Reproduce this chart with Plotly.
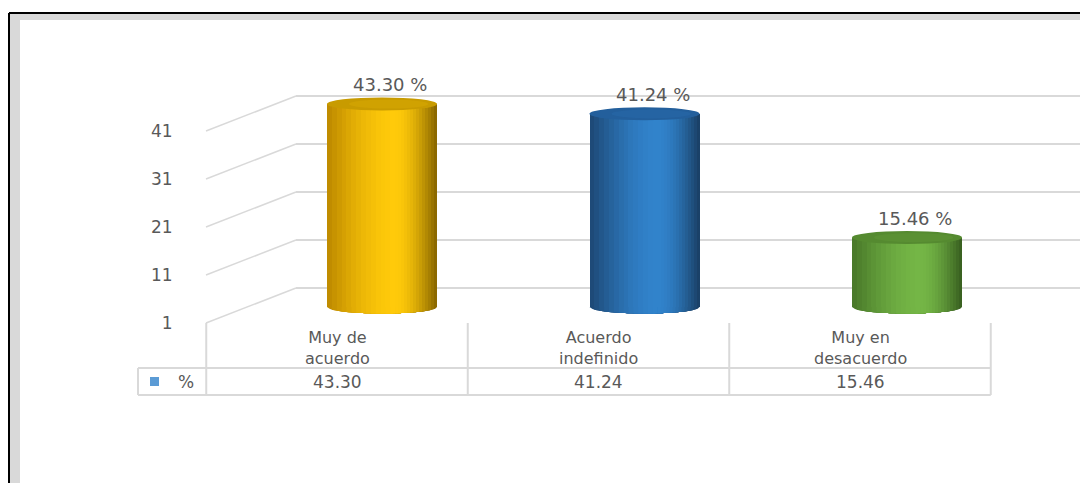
import numpy as np
import plotly.graph_objects as go

# ---------------- data ----------------
CATEGORIES = ["Muy de acuerdo", "Acuerdo indefinido", "Muy en desacuerdo"]
PERCENT = [43.30, 41.24, 15.46]
TICK_VALUES = [1, 11, 21, 31, 41]
SERIES_NAME = "%"

# cylinder colours per bar: left edge, highlight, right edge, top face
EDGE_LEFT = ["#c08c00", "#1e4a78", "#4a7a2a"]
HIGHLIGHT = ["#ffca0a", "#3183cc", "#74b646"]
EDGE_RIGHT = ["#8c6900", "#1a4168", "#3a6221"]
TOP_FACE = ["#c89b00", "#235f9c", "#558a30"]
LEGEND_KEY = "#5b9bd5"
GRID = "#d9d9d9"
TEXT = "#595959"
FONT = "DejaVu Sans"

# ---------------- geometry (screen pixels) ----------------
SCREEN_W, SCREEN_H = 1088, 483
OFF = 8                      # default page margin around the figure
W, H = SCREEN_W - OFF, SCREEN_H - OFF
BACK_L, BACK_R = 296, 1083
FRONT_X = 206
BAR_C0, BAR_STEP = 382, 262.5
FRONT_C0, FRONT_STEP = 337, 261.5
BASE_BAR, BASE_FRONT, BASE_BACK = 307, 323, 288
PPU = 4.8
AXIS_MIN = TICK_VALUES[0]
BAR_W = 110 / BAR_STEP
HALF_H = 6.5 / PPU


def px(x):
    return (x - OFF) / W


def py(y):
    return 1 - (y - OFF) / H


def yrange(base_px):
    return [AXIS_MIN - (SCREEN_H - base_px) / PPU, AXIS_MIN + (base_px - OFF) / PPU]


span = (BACK_R - BACK_L)
x_r0 = -(BAR_C0 - BACK_L) / BAR_STEP
x2_r0 = -(FRONT_C0 - BACK_L) / FRONT_STEP


def lerp(c1, c2, t):
    a = np.array([int(c1[i:i + 2], 16) for i in (1, 3, 5)], float)
    b = np.array([int(c2[i:i + 2], 16) for i in (1, 3, 5)], float)
    c = a + (b - a) * t
    return "rgb(%d,%d,%d)" % tuple(np.round(c))


fig = go.Figure()
n = len(CATEGORIES)
xs = list(range(n))

# invisible anchors for axes
fig.add_trace(go.Scatter(x=[0], y=[AXIS_MIN], mode="markers", marker=dict(opacity=0),
                         hoverinfo="skip", showlegend=False, xaxis="x", yaxis="y"))
fig.add_trace(go.Scatter(x=[0], y=[AXIS_MIN], mode="markers", marker=dict(opacity=0),
                         hoverinfo="skip", showlegend=False, xaxis="x", yaxis="y3"))

# cylinders: layered bars for horizontal shading
N = 14
hl = 0.12 * BAR_W  # highlight offset right of centre
heights = [v - AXIS_MIN for v in PERCENT]
shapes = []


def lower_half_path(ci, xa, xb):
    pts = np.linspace(xa, xb, 24)
    rx = BAR_W / 2
    ys = AXIS_MIN - HALF_H * np.sqrt(np.clip(1 - (pts / rx) ** 2, 0, 1))
    d = "M %f,%f " % (ci + xa, AXIS_MIN)
    for xx, yy in zip(pts, ys):
        d += "L %f,%f " % (ci + xx, yy)
    d += "L %f,%f Z" % (ci + xb, AXIS_MIN)
    return d


for k in range(N):
    t = k / N
    s = np.sin(t * np.pi / 2)
    left = -BAR_W / 2 + (hl + BAR_W / 2) * t
    right = BAR_W / 2 - (BAR_W / 2 - hl) * t
    cl = [lerp(EDGE_LEFT[i], HIGHLIGHT[i], s) for i in range(n)]
    cr = [lerp(EDGE_RIGHT[i], HIGHLIGHT[i], s) for i in range(n)]
    fig.add_trace(go.Bar(x=xs, y=heights, base=AXIS_MIN, offset=left, width=hl - left,
                         marker=dict(color=cl, line=dict(width=0)), hoverinfo="skip",
                         showlegend=False, xaxis="x", yaxis="y2"))
    fig.add_trace(go.Bar(x=xs, y=heights, base=AXIS_MIN, offset=hl, width=right - hl + 1e-4,
                         marker=dict(color=cr, line=dict(width=0)), hoverinfo="skip",
                         showlegend=False, xaxis="x", yaxis="y2"))
    for i in range(n):
        shapes.append(dict(type="path", xref="x", yref="y2", path=lower_half_path(i, left, hl),
                           fillcolor=cl[i], line=dict(width=0), layer="above"))
        shapes.append(dict(type="path", xref="x", yref="y2", path=lower_half_path(i, hl, right),
                           fillcolor=cr[i], line=dict(width=0), layer="above"))

# top faces
for i, v in enumerate(PERCENT):
    shapes.append(dict(type="circle", xref="x", yref="y2",
                       x0=i - BAR_W / 2, x1=i + BAR_W / 2, y0=v - HALF_H, y1=v + HALF_H,
                       fillcolor=TOP_FACE[i], line=dict(width=0), layer="above"))
    shapes.append(dict(type="circle", xref="x", yref="y2",
                       x0=i - BAR_W * 0.3, x1=i + BAR_W * 0.42, y0=v - HALF_H * 0.7, y1=v + HALF_H * 0.7,
                       fillcolor=lerp(TOP_FACE[i], HIGHLIGHT[i], 0.25), line=dict(width=0),
                       layer="above", opacity=0.6))

# side wall diagonals
for v in TICK_VALUES:
    shapes.append(dict(type="line", xref="paper", yref="paper",
                       x0=px(FRONT_X), y0=py(BASE_FRONT - (v - AXIS_MIN) * PPU),
                       x1=px(BACK_L), y1=py(BASE_BACK - (v - AXIS_MIN) * PPU),
                       line=dict(color=GRID, width=1.5), layer="below"))

# data table
TABLE_TOP, TABLE_MID, TABLE_BOT, TABLE_LEFT = 323, 368, 395, 138
bounds = [FRONT_C0 + (i - 0.5) * FRONT_STEP for i in range(n + 1)]
for b in bounds:
    shapes.append(dict(type="line", xref="paper", yref="paper", x0=px(b), x1=px(b),
                       y0=py(TABLE_TOP), y1=py(TABLE_BOT), line=dict(color=GRID, width=2)))
for yy in (TABLE_MID, TABLE_BOT):
    shapes.append(dict(type="line", xref="paper", yref="paper", x0=px(TABLE_LEFT), x1=px(bounds[-1]),
                       y0=py(yy), y1=py(yy), line=dict(color=GRID, width=2)))
shapes.append(dict(type="line", xref="paper", yref="paper", x0=px(TABLE_LEFT), x1=px(TABLE_LEFT),
                   y0=py(TABLE_MID), y1=py(TABLE_BOT), line=dict(color=GRID, width=2)))
shapes.append(dict(type="rect", xref="paper", yref="paper", x0=px(150), x1=px(159),
                   y0=py(386), y1=py(377), fillcolor=LEGEND_KEY, line=dict(width=0)))

# outer frame
shapes.append(dict(type="rect", xref="paper", yref="paper", x0=px(10), x1=1.0, y0=py(20), y1=py(14),
                   fillcolor=GRID, line=dict(width=0)))
shapes.append(dict(type="rect", xref="paper", yref="paper", x0=px(10), x1=px(20), y0=0, y1=py(14),
                   fillcolor=GRID, line=dict(width=0)))
shapes.append(dict(type="line", xref="paper", yref="paper", x0=px(9), x1=1.0, y0=py(13), y1=py(13),
                   line=dict(color="#000000", width=2)))
shapes.append(dict(type="line", xref="paper", yref="paper", x0=px(9), x1=px(9), y0=0, y1=py(13),
                   line=dict(color="#000000", width=2)))

annotations = []
# data labels
for i, v in enumerate(PERCENT):
    annotations.append(dict(xref="x", yref="y2", x=i, y=v, text="%.2f %%" % v, showarrow=False,
                            xanchor="center", yanchor="middle",
                            xshift=8, yshift=19, font=dict(size=18, color=TEXT, family=FONT)))
# category labels (two lines) and table values
for i, (c, v) in enumerate(zip(CATEGORIES, PERCENT)):
    l1, l2 = c.rsplit(" ", 1)
    annotations.append(dict(xref="x2", yref="paper", x=i, y=py(348), text=l1 + "<br>" + l2,
                            showarrow=False, xanchor="center", yanchor="middle", borderpad=0,
                            font=dict(size=16, color=TEXT, family=FONT)))
    annotations.append(dict(xref="x2", yref="paper", x=i, y=py(381.5), text="%.2f" % v, showarrow=False,
                            xanchor="center", yanchor="middle", borderpad=0,
                            font=dict(size=17, color=TEXT, family=FONT)))
annotations.append(dict(xref="paper", yref="paper", x=px(186), y=py(381.5), text=SERIES_NAME,
                        showarrow=False, xanchor="center", yanchor="middle", borderpad=0,
                        font=dict(size=17, color=TEXT, family=FONT)))

fig.update_layout(
    width=W, height=H,
    margin=dict(l=0, r=0, t=0, b=0),
    paper_bgcolor="white", plot_bgcolor="rgba(0,0,0,0)",
    barmode="overlay", bargap=0,
    showlegend=False,
    font=dict(family=FONT, color=TEXT),
    xaxis=dict(domain=[px(BACK_L), px(BACK_R)], range=[x_r0, x_r0 + span / BAR_STEP],
               visible=False, fixedrange=True),
    xaxis2=dict(overlaying="x", range=[x2_r0, x2_r0 + span / FRONT_STEP], visible=False),
    yaxis=dict(domain=[0, 1], range=yrange(BASE_BACK), tickvals=TICK_VALUES, showticklabels=False,
               showgrid=True, gridcolor=GRID, gridwidth=1.5, zeroline=False, showline=False),
    yaxis2=dict(overlaying="y", range=yrange(BASE_BAR), visible=False),
    yaxis3=dict(overlaying="y", anchor="free", position=px(FRONT_X), side="left",
                range=yrange(BASE_FRONT), tickvals=TICK_VALUES, showgrid=False, zeroline=False,
                showline=False, ticks="outside", ticklen=30, tickcolor="rgba(0,0,0,0)",
                tickfont=dict(size=17, color=TEXT, family=FONT)),
    shapes=shapes,
    annotations=annotations,
)

fig.write_html("out.html", config={"displayModeBar": False})
